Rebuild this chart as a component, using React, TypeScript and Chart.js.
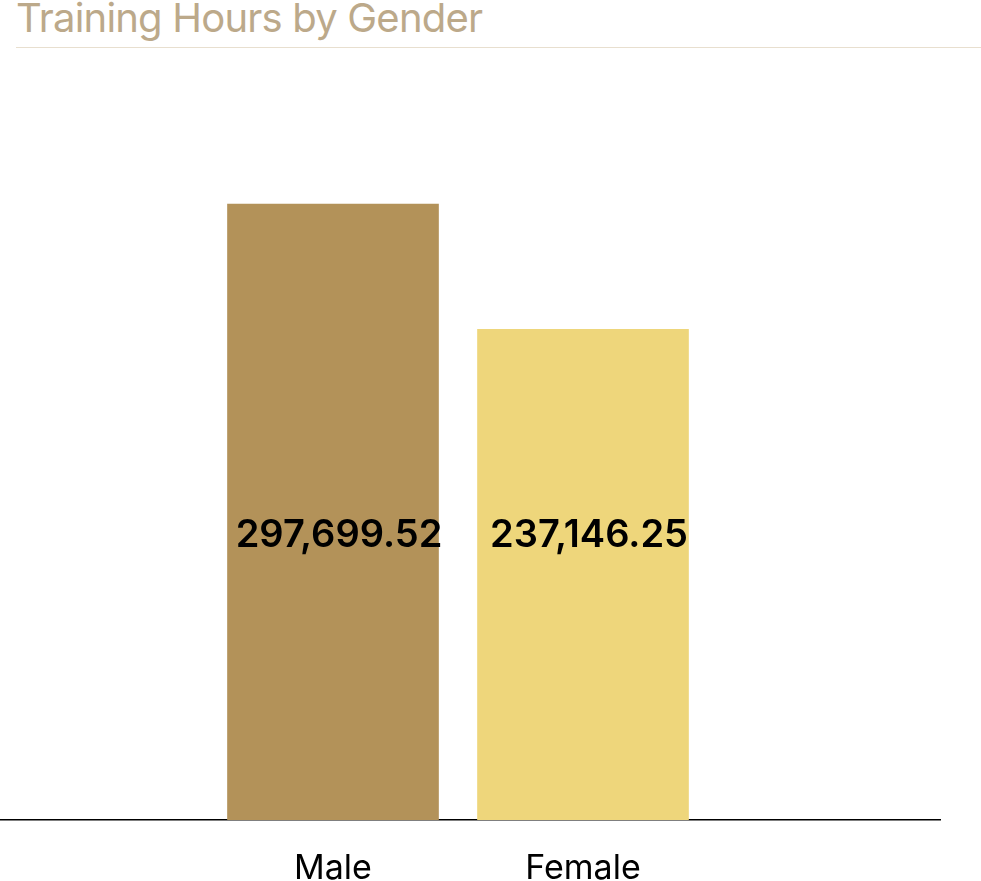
import { useEffect, useRef } from "react";
import { Chart, registerables } from "chart.js";

Chart.register(...registerables);

const categories = ["Male", "Female"];
const hours = [297699.52, 237146.25];
const barColors = ["#b39259", "#eed67b"];

// draws the value in the middle band of each bar
const valueLabels = {
    id: "valueLabels",
    afterDatasetsDraw(chart: Chart) {
        const ctx = chart.ctx;
        const meta = chart.getDatasetMeta(0);
        const y = chart.chartArea.bottom - 284;
        ctx.save();
        ctx.font = "600 38px Inter";
        ctx.fillStyle = "#000000";
        ctx.textAlign = "center";
        ctx.textBaseline = "middle";
        meta.data.forEach((bar: any, i: number) => {
            const text = hours[i].toLocaleString("en-US", {
                minimumFractionDigits: 2,
                maximumFractionDigits: 2,
            });
            ctx.fillText(text, bar.x + 6, y);
        });
        ctx.restore();
    },
};

const TrainingHoursChart = () => {
    const chartRef = useRef<HTMLCanvasElement | null>(null);
    const chartInstanceRef = useRef<Chart | null>(null);

    useEffect(() => {
        if (!chartRef.current) return;
        const ctx = chartRef.current.getContext("2d");
        if (!ctx) return;
        if (chartInstanceRef.current) {
            chartInstanceRef.current.destroy();
        }
        chartInstanceRef.current = new Chart(ctx, {
            type: "bar",
            data: {
                datasets: [
                    {
                        label: "Training Hours",
                        data: hours.map((v, i) => ({ x: i, y: v })),
                        backgroundColor: barColors,
                        barThickness: 211,
                        borderWidth: 0,
                    },
                ],
            },
            plugins: [valueLabels],
            options: {
                animation: false,
                responsive: false,
                maintainAspectRatio: false,
                layout: {
                    padding: { top: 48, right: 41, left: 0, bottom: 0 },
                },
                plugins: {
                    legend: { display: false },
                    tooltip: { enabled: false },
                },
                scales: {
                    x: {
                        type: "linear",
                        offset: false,
                        min: -1.332,
                        max: 2.428,
                        grid: { display: false, offset: false },
                        border: { display: true, color: "#000000", width: 1.5 },
                        afterBuildTicks: (scale: any) => {
                            scale.ticks = categories.map((_, i) => ({ value: i }));
                        },
                        afterFit: (scale: any) => {
                            scale.height = 61;
                        },
                        ticks: {
                            autoSkip: false,
                            maxRotation: 0,
                            padding: 20,
                            color: "#000000",
                            font: { family: "Inter", size: 34 },
                            callback: (value: any) => categories[value] ?? "",
                        },
                    },
                    y: {
                        display: false,
                        min: 0,
                        max: 350000,
                    },
                },
            },
        });

        return () => {
            if (chartInstanceRef.current) {
                chartInstanceRef.current.destroy();
                chartInstanceRef.current = null;
            }
        };
    }, []);

    return <canvas ref={chartRef} width={981} height={833} style={{ display: "block" }} />;
};

export default function App() {
    return (
        <div
            style={{
                position: "fixed",
                inset: 0,
                width: 981,
                height: 881,
                background: "#ffffff",
                overflow: "hidden",
            }}
        >
            <div
                style={{
                    position: "absolute",
                    left: 16,
                    top: -6,
                    fontFamily: "Inter",
                    fontSize: 40,
                    lineHeight: "48px",
                    letterSpacing: -0.8,
                    color: "#bca98a",
                    whiteSpace: "nowrap",
                }}
            >
                Training Hours by Gender
            </div>
            <div
                style={{
                    position: "absolute",
                    left: 16,
                    right: 0,
                    top: 47,
                    height: 1,
                    background: "#e8dfcf",
                }}
            />
            <div style={{ position: "absolute", left: 0, top: 48 }}>
                <TrainingHoursChart />
            </div>
        </div>
    );
}
